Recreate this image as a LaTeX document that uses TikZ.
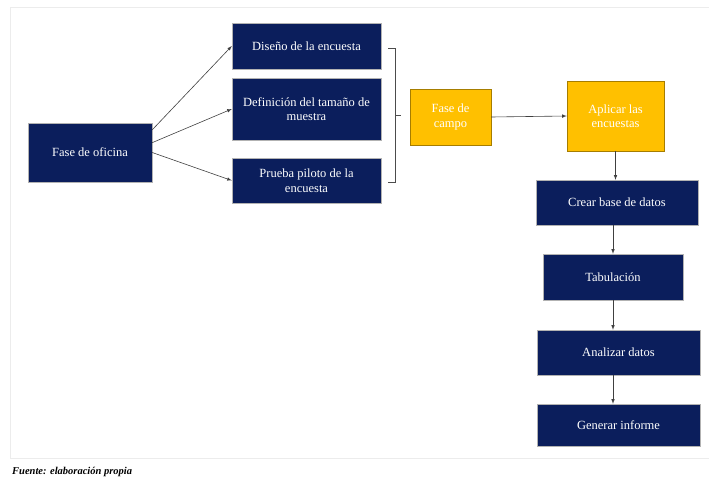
\documentclass[tikz,border=0pt]{standalone}
\usepackage{fontspec}
\setmainfont{Liberation Serif}
\usepackage{tikz}
\definecolor{navy}{RGB}{11,30,92}
\definecolor{gold}{RGB}{255,192,0}

\begin{document}
\begin{tikzpicture}[x=1pt,y=-1pt,
                    box/.style={draw=gray!60,fill=navy,text=white,align=center,
                                inner sep=1pt,font=\fontsize{12.5}{14.5}\selectfont},
                    goldbox/.style={box,draw=gold!65!black,fill=gold},
                    flecha/.style={draw=black!75,line width=0.6pt,-latex}]

                    \useasboundingbox (0,0) rectangle (709,480);
                    \draw[gray!15,line width=0.8pt] (709,7) -- (10,7) -- (10,458) -- (709,458);

                    \node [box,minimum width=124pt,minimum height=59pt] (oficina) at (90,152.5) {Fase de oficina};
                    \node [box,minimum width=149pt,minimum height=46pt] (diseno) at (306.5,46) {Diseño de la encuesta};
                    \node [box,minimum width=149pt,minimum height=62pt] (definicion) at (306.5,109) {Definición del tamaño de\\muestra};
                    \node [box,minimum width=149pt,minimum height=45pt] (prueba) at (306.5,180.5) {Prueba piloto de la\\encuesta};
                    \node [goldbox,minimum width=81pt,minimum height=56pt] (campo) at (450.5,117) {Fase de\\campo};
                    \node [goldbox,minimum width=97pt,minimum height=70pt] (aplicar) at (615.5,116) {Aplicar las\\encuestas};
                    \node [box,minimum width=162pt,minimum height=45pt] (crear) at (617,202.5) {Crear base de datos};
                    \node [box,minimum width=140pt,minimum height=46pt] (tabulacion) at (613,277) {Tabulación};
                    \node [box,minimum width=163pt,minimum height=45pt] (analizar) at (618.5,352.5) {Analizar datos};
                    \node [box,minimum width=163pt,minimum height=42pt] (informe) at (618.5,425) {Generar informe};

                    \draw[flecha] (oficina.20) -- (diseno.west);
                    \draw[flecha] (oficina.9) -- (definicion.west);
                    \draw[flecha] (oficina.east) -- (prueba.west);
                    \draw[flecha] (campo.east) -- (aplicar.west);
                    \draw[flecha] (aplicar.south) -- (aplicar.south |- crear.north);
                    \draw[flecha] (tabulacion.north |- crear.south) -- (tabulacion.north);
                    \draw[flecha] (tabulacion.south) -- (tabulacion.south |- analizar.north);
                    \draw[flecha] (analizar.south -| tabulacion.south) -- (tabulacion.south |- informe.north);

                    \draw[black!70,line width=0.7pt] (388,48) -- (395,48) -- (395,182) -- (388,182)
                          (395,115) -- (401,115);

                    \node [anchor=south west,inner sep=0pt,
                           font=\bfseries\itshape\fontsize{10.5}{12}\selectfont] (fuente) at (12,477) {Fuente: elaboración propia};
                \end{tikzpicture}
\end{document}
